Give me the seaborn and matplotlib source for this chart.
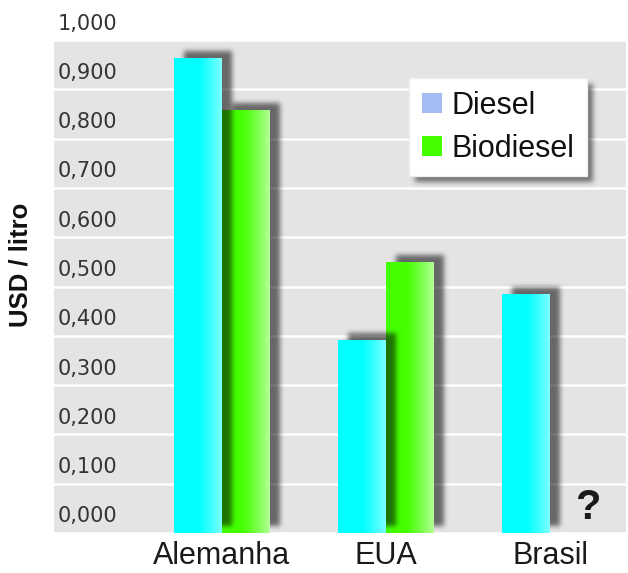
import numpy as np
import pandas as pd
import matplotlib
matplotlib.use("Agg")
import matplotlib.pyplot as plt
import seaborn as sns
from matplotlib.patches import Patch
from matplotlib.transforms import ScaledTranslation
from matplotlib.colors import to_rgb

# ---- data -------------------------------------------------------------
countries = ["Alemanha", "EUA", "Brasil"]
fuels = ["Diesel", "Biodiesel"]
diesel = [0.963, 0.391, 0.485]
biodiesel = [0.858, 0.550, np.nan]          # no biodiesel price for Brasil
y_ticks = [0.0, 0.1, 0.2, 0.3, 0.4, 0.5, 0.6, 0.7, 0.8, 0.9, 1.0]
y_tick_labels = ["0,000", "0,100", "0,200", "0,300", "0,400", "0,500",
                 "0,600", "0,700", "0,800", "0,900", "1,000"]
y_label = "USD / litro"
missing_mark = "?"

bar_colors = {"Diesel": "#00ffff", "Biodiesel": "#44ff00"}
bar_highlights = {"Diesel": "#80ffff", "Biodiesel": "#b4ff96"}
legend_colors = {"Diesel": "#a3bdf2", "Biodiesel": "#44ff00"}

df = pd.DataFrame({
    "País": countries * 2,
    "Combustível": [fuels[0]] * 3 + [fuels[1]] * 3,
    "USD": diesel + biodiesel,
})

# ---- style ------------------------------------------------------------
sns.set_theme(style="darkgrid", rc={
    "axes.facecolor": "#e4e4e4",
    "grid.color": "white",
    "grid.linewidth": 1.8,
})
plt.rcParams["font.family"] = ["Liberation Sans", "DejaVu Sans"]

W_PX, H_PX, DPI = 628, 573, 100
fig = plt.figure(figsize=(W_PX / DPI, H_PX / DPI), dpi=DPI)
fig.patch.set_facecolor("white")
left, right, top, bottom = 54, 626, 40, 533
ax = fig.add_axes([left / W_PX, 1 - bottom / H_PX,
                   (right - left) / W_PX, (bottom - top) / H_PX])

sns.barplot(data=df, x="País", y="USD", hue="Combustível", order=countries,
            hue_order=fuels, palette=bar_colors, width=0.58, gap=0,
            saturation=1, errorbar=None, legend=False, ax=ax, zorder=3)

XLIM = (-1.024, 2.463)
YLIM = (0, 1)


def fix_limits():
    ax.set_xlim(*XLIM)
    ax.set_ylim(*YLIM)


fix_limits()

# ---- gradient fill on each bar ---------------------------------------
bars = {}
for fuel, container in zip(fuels, ax.containers):
    z = 3 if fuel == "Biodiesel" else 5
    keep = []
    for p in container.patches:
        if not np.isfinite(p.get_height()) or p.get_height() == 0:
            continue
        p.set_zorder(z)
        p.set_edgecolor("none")
        c0 = np.array(to_rgb(bar_colors[fuel]))
        c1 = np.array(to_rgb(bar_highlights[fuel]))
        t = np.linspace(0, 1, 128)
        start = 0.5 if fuel == "Diesel" else 0.4
        ramp = np.clip((t - start) / (1 - start), 0, 1) ** 1.2
        grad = c0[None, :] * (1 - ramp[:, None]) + c1[None, :] * ramp[:, None]
        x0, w, h = p.get_x(), p.get_width(), p.get_height()
        im = ax.imshow(grad[None, :, :], extent=(x0, x0 + w, 0, h),
                       aspect="auto", zorder=z + 0.1, interpolation="bilinear")
        im.set_clip_path(p)
        keep.append(p)
    bars[fuel] = keep
fix_limits()

# ---- axes furniture ---------------------------------------------------
ax.set_yticks(y_ticks, y_tick_labels)
ax.grid(axis="x", visible=False)
ax.grid(axis="y", visible=True)
ax.set_axisbelow(True)
for s in ax.spines.values():
    s.set_visible(False)
ax.set_xlabel("")
ax.set_ylabel(y_label, fontsize=18.5, fontweight="bold", color="#111111")
ax.yaxis.set_label_coords(-0.037, 0.5436)
ax.tick_params(axis="x", length=0, pad=6, labelsize=22, labelcolor="#1a1a1a")
ax.tick_params(axis="y", length=0, pad=-4 * 72 / DPI, labelsize=15,
               labelcolor="#333333")

ax.text(2.23, 0.05, missing_mark, ha="center", va="center", fontsize=30,
        fontweight="bold", color="#1a1a1a", zorder=6)

handles = [Patch(facecolor=legend_colors[f], edgecolor="none", label=f)
           for f in fuels]
leg = ax.legend(handles=handles, loc="upper left", bbox_to_anchor=(0.621, 0.923),
                frameon=True, fancybox=False, framealpha=1, facecolor="white",
                edgecolor="#eeeeee", fontsize=22, handlelength=0.65,
                handleheight=0.65, handletextpad=0.3, borderpad=0.42,
                labelspacing=0.42, borderaxespad=0)
leg.set_zorder(10)
for txt in leg.get_texts():
    txt.set_color("#111111")

fig.canvas.draw()

# ---- soft drop shadows ------------------------------------------------
bb = ax.bbox
GW, GH = int(round(bb.width)), int(round(bb.height))


def blur(m, sigma):
    r = int(3 * sigma)
    k = np.exp(-0.5 * (np.arange(-r, r + 1) / sigma) ** 2)
    k /= k.sum()
    m = np.apply_along_axis(lambda v: np.convolve(v, k, mode="same"), 0, m)
    m = np.apply_along_axis(lambda v: np.convolve(v, k, mode="same"), 1, m)
    return m


def shadow_layer(display_boxes, dx, dy, sigma, alpha, zorder):
    m = np.zeros((GH, GW))
    for (x0, y0, x1, y1) in display_boxes:
        a0 = int(round(x0 - bb.x0 + dx)); a1 = int(round(x1 - bb.x0 + dx))
        b0 = int(round(y0 - bb.y0 + dy)); b1 = int(round(y1 - bb.y0 + dy))
        m[max(b0, 0):max(min(b1, GH), 0), max(a0, 0):max(min(a1, GW), 0)] = 1
    m = blur(m, sigma)
    rgba = np.zeros((GH, GW, 4))
    rgba[..., 3] = m * alpha
    ax.imshow(rgba, extent=(*XLIM, *YLIM), origin="lower", aspect="auto",
              zorder=zorder, interpolation="bilinear")


def bar_box(p):
    (x0, y0), (x1, y1) = ax.transData.transform(
        [(p.get_x(), 0), (p.get_x() + p.get_width(), p.get_height())])
    return (x0, y0, x1, y1)


lb = leg.get_window_extent()
shadow_layer([bar_box(p) for p in bars["Biodiesel"]], 10, 7, 2.5, 0.55, 2.5)
shadow_layer([(lb.x0, lb.y0, lb.x1, lb.y1)], 6, -6, 2.5, 0.5, 2.4)
shadow_layer([bar_box(p) for p in bars["Diesel"]], 10, 7, 2.5, 0.55, 4)
fix_limits()

# tick labels sit inside the panel, a little above their grid line
offset = ScaledTranslation(0, 16.5 / DPI, fig.dpi_scale_trans)
for lab in ax.get_yticklabels():
    lab.set_family(["DejaVu Sans"])
    lab.set_horizontalalignment("left")
    lab.set_verticalalignment("center")
    lab.set_transform(lab.get_transform() + offset)

fig.savefig("out.png", dpi=DPI)
